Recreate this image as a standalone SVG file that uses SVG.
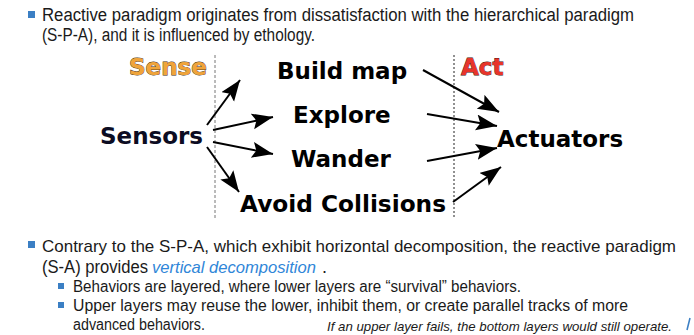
<svg xmlns="http://www.w3.org/2000/svg" width="694" height="335" viewBox="0 0 694 335">
  <style>
    .body { font-family: "Liberation Sans", Arial, sans-serif; font-size: 18px; fill: #1a1a1a; }
    .sub { font-family: "Liberation Sans", Arial, sans-serif; font-size: 16px; fill: #1a1a1a; }
    .note { font-family: "Liberation Sans", Arial, sans-serif; font-size: 13px; font-style: italic; fill: #1a1a1a; }
    .em { fill: #2f86d8; font-style: italic; }
    .node { font-family: "DejaVu Sans", Verdana, sans-serif; font-weight: bold; font-size: 23px; fill: #000; }
    .sensors { fill: #0c0c22; }
    .phase { font-family: "DejaVu Sans", Verdana, sans-serif; font-weight: bold; font-size: 23px; stroke-width: 0.8; paint-order: stroke; }
    .bullet { fill: #3b7fc4; }
    .conn { stroke: #000; stroke-width: 2; fill: none; marker-end: url(#head); }
  </style>
  <defs>
    <marker id="head" markerUnits="userSpaceOnUse" markerWidth="24" markerHeight="18" refX="21" refY="8" orient="auto">
      <path d="M0,0 L21,8 L0,16 L4,8 Z" fill="#000"/>
    </marker>
  </defs>

  <!-- opening bullet -->
  <g id="intro">
    <rect class="bullet" x="28" y="11" width="7" height="7"/>
    <text class="body" x="42" y="21" textLength="592" lengthAdjust="spacingAndGlyphs">Reactive paradigm originates from dissatisfaction with the hierarchical paradigm</text>
    <text class="body" x="42" y="41" textLength="273" lengthAdjust="spacingAndGlyphs">(S-P-A), and it is influenced by ethology.</text>
  </g>

  <!-- phase separators -->
  <g id="separators">
    <line x1="215" y1="55" x2="215" y2="218" stroke="#777" stroke-width="1" stroke-dasharray="3,2"/>
    <line x1="454" y1="55" x2="454" y2="218" stroke="#222" stroke-width="1" stroke-dasharray="2,2"/>
  </g>

  <g id="sense-label">
    <text class="phase" x="129" y="75" fill="#f0a43a" stroke="#3a2a10">Sense</text>
  </g>
  <g id="act-label">
    <text class="phase" x="461" y="75" fill="#e8342a" stroke="#3a1010">Act</text>
  </g>

  <g id="sensors">
    <text class="node sensors" x="100" y="144">Sensors</text>
  </g>
  <g id="build-map">
    <text class="node" x="277" y="79">Build map</text>
  </g>
  <g id="explore">
    <text class="node" x="293" y="123">Explore</text>
  </g>
  <g id="wander">
    <text class="node" x="291" y="167">Wander</text>
  </g>
  <g id="avoid-collisions">
    <text class="node" x="240" y="212" textLength="206" lengthAdjust="spacingAndGlyphs">Avoid Collisions</text>
  </g>
  <g id="actuators">
    <text class="node" x="497" y="147">Actuators</text>
  </g>

  <!-- connectors -->
  <g id="connectors">
    <line class="conn" x1="207" y1="125" x2="240" y2="80"/>
    <line class="conn" x1="213" y1="130" x2="273" y2="117"/>
    <line class="conn" x1="213" y1="142" x2="273" y2="154"/>
    <line class="conn" x1="207" y1="147" x2="239" y2="192"/>
    <line class="conn" x1="423" y1="70" x2="499" y2="112"/>
    <line class="conn" x1="427" y1="114" x2="497" y2="126"/>
    <line class="conn" x1="427" y1="161" x2="497" y2="148"/>
    <line class="conn" x1="453" y1="202" x2="501" y2="167"/>
  </g>

  <!-- closing bullets -->
  <g id="decomposition">
    <rect class="bullet" x="28" y="241" width="7" height="7"/>
    <text class="body" x="42" y="252" style="font-size:17px" textLength="634" lengthAdjust="spacingAndGlyphs">Contrary to the S-P-A, which exhibit horizontal decomposition, the reactive paradigm</text>
    <text class="body" x="42" y="273" textLength="106" lengthAdjust="spacingAndGlyphs">(S-A) provides</text>
    <text class="body em" x="152" y="273" style="font-size:17px" textLength="164" lengthAdjust="spacingAndGlyphs">vertical decomposition</text>
    <text class="body" x="322" y="273">.</text>
    <rect class="bullet" x="58" y="283" width="6" height="6"/>
    <text class="sub" x="73" y="292" textLength="448" lengthAdjust="spacingAndGlyphs">Behaviors are layered, where lower layers are “survival” behaviors.</text>
    <rect class="bullet" x="58" y="302" width="6" height="6"/>
    <text class="sub" x="73" y="311" textLength="555" lengthAdjust="spacingAndGlyphs">Upper layers may reuse the lower, inhibit them, or create parallel tracks of more</text>
    <text class="sub" x="73" y="330" textLength="132" lengthAdjust="spacingAndGlyphs">advanced behaviors.</text>
    <text class="note" x="327" y="331" textLength="345" lengthAdjust="spacingAndGlyphs">If an upper layer fails, the bottom layers would still operate.</text>
  </g>
  <line x1="690" y1="318" x2="687" y2="330" stroke="#3b7fc4" stroke-width="1.5"/>
</svg>
